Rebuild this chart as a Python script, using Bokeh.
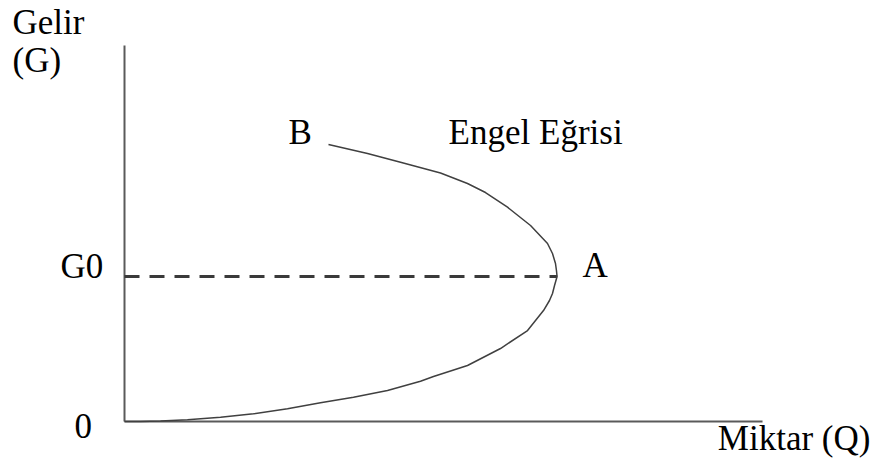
from bokeh.plotting import figure
from bokeh.models import Range1d, ColumnDataSource
from bokeh.core.properties import value
from bokeh.embed import file_html
from bokeh.resources import INLINE

# Engel curve (Q = quantity, G = income)
curve_q = [0.0, 0.251, 0.564, 0.987, 1.505, 2.022, 2.555, 3.072, 3.589, 4.122, 4.639,
           4.843, 5.110, 5.376, 5.893, 6.317, 6.567, 6.661, 6.708, 6.740, 6.780,
           6.770, 6.755, 6.708, 6.630, 6.364, 6.003, 5.658, 5.376, 4.953, 4.326,
           3.809, 3.197]
curve_g = [0.0, 0.003, 0.011, 0.047, 0.119, 0.212, 0.350, 0.516, 0.670, 0.855, 1.112,
           1.241, 1.393, 1.545, 2.014, 2.510, 3.062, 3.338, 3.531, 3.752, 4.000,
           4.166, 4.359, 4.634, 4.910, 5.407, 5.912, 6.317, 6.566, 6.855, 7.153,
           7.393, 7.641]

G0 = 4.0
Q_A = 6.780
Q_MAX = 10.0
G_MAX = 10.37

label_text = ["Gelir", "(G)", "B", "Engel Eğrisi", "G0", "0", "A", "Miktar (Q)"]
label_q = [-1.755, -1.755, 2.571, 5.080, -1.003, -0.784, 7.18, 9.30]
label_g = [11.007, 9.959, 7.973, 7.973, 4.276, -0.126, 4.304, -0.469]

p = figure(width=874, height=459, output_backend="svg", toolbar_location=None,
           x_range=Range1d(-1.9436, 11.755), y_range=Range1d(-1.048, 11.614),
           min_border=0, min_border_left=0, min_border_right=0,
           min_border_top=0, min_border_bottom=0)
p.axis.visible = False
p.grid.visible = False
p.outline_line_color = None
p.background_fill_color = "white"
p.border_fill_color = "white"

# axes
p.segment(x0=[0, 0], y0=[0, 0], x1=[0, Q_MAX], y1=[G_MAX, 0],
          line_color="#5a5a5a", line_width=2)

# dashed G0 line
p.line(x=[0, Q_A], y=[G0, G0], line_color="#3a3a3a", line_width=3,
       line_dash="15 10")

# Engel curve
p.line(x=curve_q, y=curve_g, line_color="#404040", line_width=1.5,
       line_join="round")

src = ColumnDataSource(dict(x=label_q, y=label_g, t=label_text))
p.text(x="x", y="y", text="t", source=src, text_font=value("Liberation Serif"),
       text_font_size="35px", text_color="black", text_align="left",
       text_baseline="alphabetic")

open("out.html", "w").write(file_html(p, INLINE))
